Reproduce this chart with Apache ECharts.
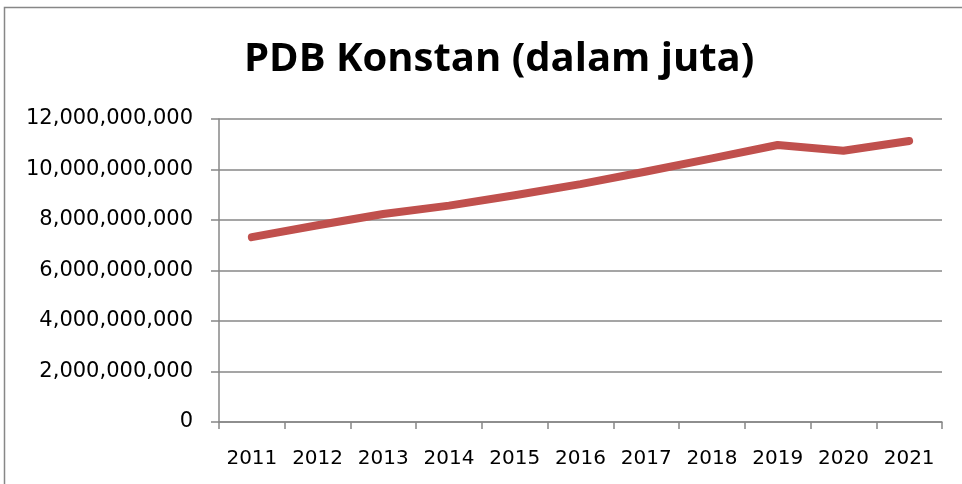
<!DOCTYPE html>
<html>
<head>
<meta charset="utf-8">
<script src="https://cdn.jsdelivr.net/npm/echarts@6/dist/echarts.min.js"></script>
<style>
  html, body { margin: 0; padding: 0; background: #fff; }
  #chart { width: 962px; height: 484px; }
</style>
</head>
<body>
<div id="chart"></div>
<script>
// data
const years = ['2011', '2012', '2013', '2014', '2015', '2016', '2017', '2018', '2019', '2020', '2021']
const pdbKonstan = [
  7320000000, 7790000000, 8240000000, 8570000000, 8980000000,
  9420000000, 9920000000, 10440000000, 10970000000, 10740000000, 11130000000
]
const yTicks = { min: 0, max: 12000000000, interval: 2000000000 }

const gray = '#878787'
const chart = echarts.init(document.getElementById('chart'))

chart.setOption({
  animation: false,
  title: {
    text: 'PDB Konstan (dalam juta)',
    left: 239,
    top: 35,
    textStyle: {
      fontFamily: "'Open Sans', sans-serif",
      fontSize: 40,
      fontWeight: 'bold',
      color: '#000'
    }
  },
  graphic: [{
    type: 'rect',
    shape: { x: 4.5, y: 7.5, width: 1000, height: 1000 },
    style: { fill: 'none', stroke: gray, lineWidth: 1.5 },
    silent: true
  }],
  grid: { left: 219, right: 20, top: 119, bottom: 62 },
  xAxis: {
    type: 'category',
    data: years,
    boundaryGap: true,
    axisLine: { lineStyle: { color: gray, width: 1.5 } },
    axisTick: { show: true, length: 7, lineStyle: { color: gray, width: 1.5 } },
    axisLabel: {
      interval: 0,
      margin: 27,
      fontFamily: "'DejaVu Sans', sans-serif",
      fontSize: 20,
      color: '#000'
    },
    splitLine: { show: false }
  },
  yAxis: {
    type: 'value',
    min: yTicks.min,
    max: yTicks.max,
    interval: yTicks.interval,
    axisLine: { show: true, lineStyle: { color: gray, width: 1.5 } },
    axisTick: { show: true, length: 8, lineStyle: { color: gray, width: 1.5 } },
    axisLabel: {
      margin: 26,
      fontFamily: "'DejaVu Sans', sans-serif",
      fontSize: 21,
      color: '#000',
      formatter: v => v.toLocaleString('en-US')
    },
    splitLine: { lineStyle: { color: gray, width: 1.5 } }
  },
  series: [{
    type: 'line',
    data: pdbKonstan,
    symbol: 'none',
    lineStyle: { color: '#C0504D', width: 8, cap: 'round', join: 'round' }
  }]
})
</script>
</body>
</html>
